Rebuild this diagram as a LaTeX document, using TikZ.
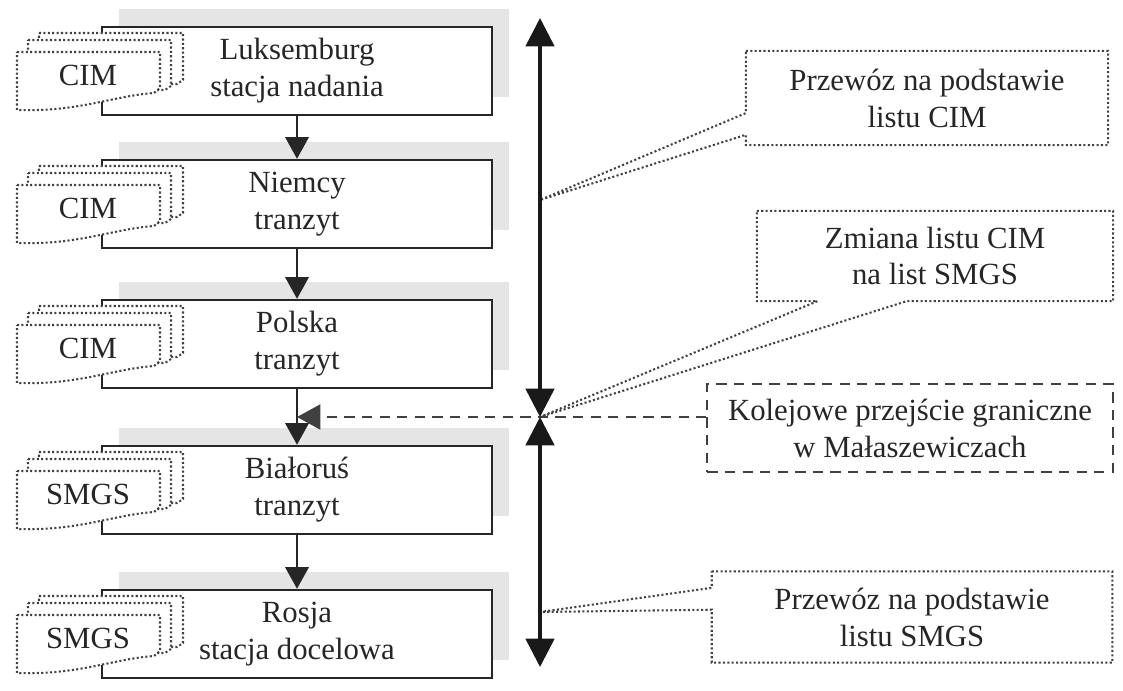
\documentclass[tikz,border=0pt]{standalone}
\usepackage{fontspec}
\setmainfont{Liberation Serif}
\usetikzlibrary{arrows.meta,calc,shadows}

\tikzset{
  txt/.style={font=\fontsize{10.5}{12.6}\selectfont, text=black!85, align=center},
  stage/.style={txt, draw=black!85, line width=0.8pt, fill=white,
    minimum width=4.68cm, minimum height=1.056cm,
    drop shadow={shadow xshift=0.2cm, shadow yshift=0.22cm, fill=gray!20, opacity=1}},
  docline/.style={draw=black!75, fill=white, line width=0.7pt, dash pattern=on 0.7pt off 0.8pt},
  callline/.style={draw=black!75, line width=0.7pt, dash pattern=on 0.7pt off 0.8pt},
  dashline/.style={draw=black!75, line width=0.7pt, dash pattern=on 3.5pt off 2.5pt},
  flow/.style={draw=black!85, line width=0.8pt, -{Triangle[width=0.28cm,length=0.26cm]}},
  bigarrow/.style={draw=black!90, line width=1.2pt, {Triangle[width=0.34cm,length=0.34cm]}-{Triangle[width=0.34cm,length=0.34cm]}}
}

\begin{document}
\begin{tikzpicture}[x=0.012cm, y=-0.012cm]
    \useasboundingbox (0,0) rectangle (1123,690);

    % --- etapy przewozu (ramki + stosy listów przewozowych) ---
    \foreach \i/\T/\where/\doc in {1/27/{Luksemburg\\stacja nadania}/CIM,
                                   2/160/{Niemcy\\tranzyt}/CIM,
                                   3/300/{Polska\\tranzyt}/CIM,
                                   4/446/{Białoruś\\tranzyt}/SMGS,
                                   5/590/{Rosja\\stacja docelowa}/SMGS} {
        \node[stage] (b\i) at (297,\T+44) {\where};
        % trzy kartki listu, od tylnej do przedniej
        \draw[docline] (39,\T+6) -- (183,\T+6) -- (183,\T+53) -- (177,\T+57) -- (39,\T+57) -- cycle;
        \draw[docline] (28,\T+13) -- (171,\T+13) -- (171,\T+59) -- (165,\T+63) -- (28,\T+63) -- cycle;
        \draw[docline] (17,\T+25) -- (160,\T+25) -- (160,\T+61) -- (154,\T+66)
            .. controls (112,\T+69) and (80,\T+85) .. (17,\T+83) -- cycle;
        \node[txt] (d\i) at (88,\T+48) {\doc};
    }

    % --- strzałki między etapami ---
    \foreach \i [evaluate=\i as \j using int(\i+1)] in {1,...,4}
        \draw[flow] (b\i.south) -- (b\j.north);

    % --- punkty pomocnicze ---
    \coordinate (hit) at ($(b3.south)!0.5!(b4.north)$);
    \coordinate (top) at (540,18);
    \coordinate (bot) at (540,667);
    \coordinate (mid) at (hit -| top);
    \coordinate (t1) at (540,200);
    \coordinate (t3) at (540,612);

    % --- objaśnienia ---
    \node[txt, minimum width=4.33cm, minimum height=1.116cm] (c1) at (927,98) {Przewóz na podstawie\\listu CIM};
    \node[txt, minimum width=4.26cm, minimum height=1.07cm] (c2) at (935,256) {Zmiana listu CIM\\na list SMGS};
    \node[txt, minimum width=4.79cm, minimum height=1.08cm] (c3) at (912,617) {Przewóz na podstawie\\listu SMGS};
    \node[txt, dashline, minimum width=4.86cm, minimum height=1.056cm] (k) at (910,428) {Kolejowe przejście graniczne\\w Małaszewiczach};

    % ramki objaśnień z "dziobkiem"
    \draw[callline] (c1.north west) -- (c1.north east) -- (c1.south east) -- (c1.south west)
        -- ($(c1.south west)!0.11!(c1.north west)$) -- (t1) -- ($(c1.south west)!0.34!(c1.north west)$) -- cycle;
    \draw[callline] (c2.north west) -- (c2.north east) -- (c2.south east)
        -- ($(c2.south west)!0.42!(c2.south east)$) -- (mid) -- ($(c2.south west)!0.17!(c2.south east)$)
        -- (c2.south west) -- cycle;
    \draw[callline] (c3.north west) -- (c3.north east) -- (c3.south east) -- (c3.south west)
        -- ($(c3.south west)!0.58!(c3.north west)$) -- (t3) -- ($(c3.south west)!0.82!(c3.north west)$) -- cycle;

    % --- przejście graniczne ---
    \draw[dashline, -{Triangle[width=0.3cm,length=0.28cm]}] (k.west |- hit) -- (hit);

    % --- zakres listów CIM / SMGS ---
    \draw[bigarrow] (top) -- (mid);
    \draw[bigarrow] (mid) -- (bot);

\end{tikzpicture}
\end{document}
